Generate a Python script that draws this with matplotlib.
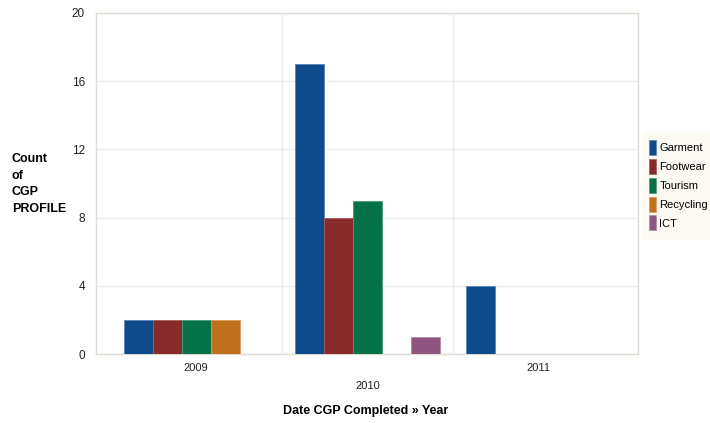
import matplotlib.pyplot as plt
import numpy as np
from matplotlib.patches import Patch

plt.rcParams["font.family"] = ["Liberation Sans", "DejaVu Sans"]

years = ["2009", "2010", "2011"]
series = ["Garment", "Footwear", "Tourism", "Recycling", "ICT"]
garment = [2, 17, 4]
footwear = [2, 8, 0]
tourism = [2, 9, 0]
recycling = [2, 0, 0]
ict = [0, 1, 0]
colors = ["#0f4a8a", "#862a2a", "#047149", "#c0711c", "#8f5680"]
edges = ["#5a84b8", "#a85a5a", "#4a9a78", "#d89a58", "#b08aa6"]

values = [garment, footwear, tourism, recycling, ict]

fig = plt.figure(figsize=(7.1, 4.23), dpi=100)
ax = fig.add_axes([96 / 710, 1 - 354 / 423, (638 - 96) / 710, (354 - 13) / 423])

x = np.arange(len(years))
w = 0.169
for i, (vals, c, ec) in enumerate(zip(values, colors, edges)):
    offs = (i - 2) * w
    for xi, v in zip(x, vals):
        if v > 0:
            ax.bar(xi + offs, v, width=w, color=c, edgecolor=ec, linewidth=0.6, zorder=3)

ax.set_xlim(-0.585, 2.58)
ax.set_ylim(0, 20)
ax.set_yticks([0, 4, 8, 12, 16, 20])
ax.set_xticks([])
ax.grid(axis="y", color="#ececec", linewidth=1, zorder=0)
for gx in (0.5, 1.5):
    ax.axvline(gx, color="#ececec", linewidth=1, zorder=0)

for s in ax.spines.values():
    s.set_color("#dcdcd2")
    s.set_linewidth(1.0)
ax.tick_params(axis="y", length=0, pad=8, labelsize=8.5, labelcolor="#222222")

# staggered year labels under each group
for xi, lab in zip(x, years):
    yoff = -0.095 if xi == 1 else -0.04
    ax.text(xi, yoff, lab, transform=ax.get_xaxis_transform(), ha="center", va="center",
            fontsize=8, color="#222222")

fig.text(12 / 710, 1 - 184 / 423, "Count\nof\nCGP\nPROFILE", ha="left", va="center",
         fontsize=9, fontweight="bold", linespacing=1.5)
fig.text(366 / 710, 1 - 411 / 423, "Date CGP Completed » Year", ha="center", va="center",
         fontsize=9, fontweight="bold")

handles = [Patch(facecolor=c, edgecolor=ec, linewidth=0.5) for c, ec in zip(colors, edges)]
leg = fig.legend(handles, series, loc="upper left", bbox_to_anchor=(645 / 710, 1 - 136 / 423),
                 fontsize=8, frameon=True, handlelength=0.6, handleheight=1.7,
                 handletextpad=0.35, labelspacing=0.35, borderpad=0.35, borderaxespad=0)
leg.get_frame().set_facecolor("#fcf9f0")
leg.get_frame().set_edgecolor("#fcf9f0")
leg.get_frame().set_boxstyle("square")

fig.savefig("out.png", dpi=100)
